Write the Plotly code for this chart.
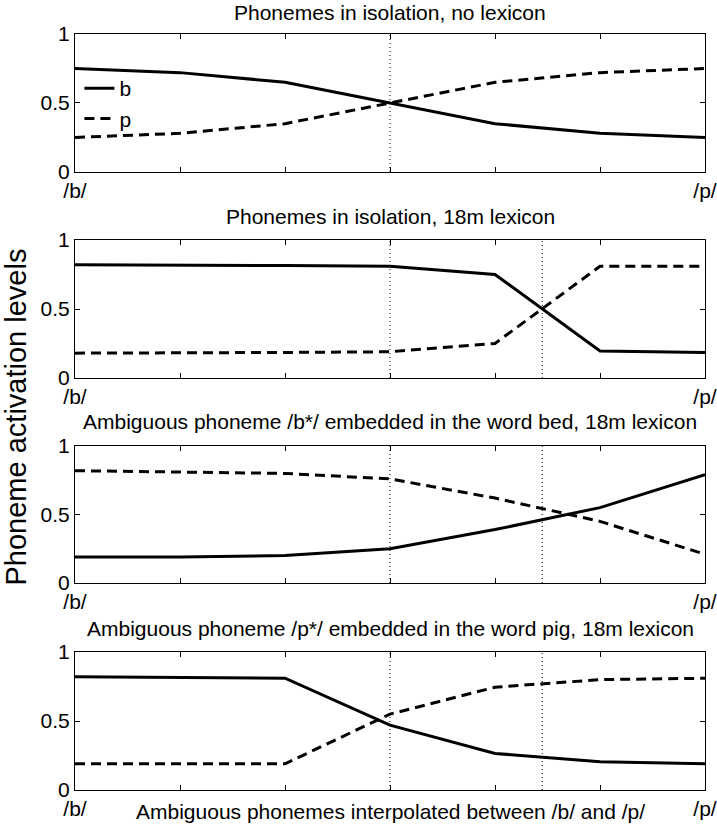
import plotly.graph_objects as go
from plotly.subplots import make_subplots

# continuum steps between /b/ and /p/
steps = [0, 1, 2, 3, 4, 5, 6]
tick_text = ["/b/", "", "", "", "", "", "/p/"]

titles = [
    "Phonemes in isolation, no lexicon",
    "Phonemes in isolation, 18m lexicon",
    "Ambiguous phoneme /b*/ embedded in the word bed, 18m lexicon",
    "Ambiguous phoneme /p*/ embedded in the word pig, 18m lexicon",
]

b_iso_none = [0.75, 0.72, 0.65, 0.50, 0.35, 0.28, 0.25]
p_iso_none = [0.25, 0.28, 0.35, 0.50, 0.65, 0.72, 0.75]

b_iso_18m = [0.82, 0.82, 0.815, 0.81, 0.75, 0.195, 0.185]
p_iso_18m = [0.18, 0.18, 0.185, 0.19, 0.25, 0.81, 0.81]

b_bed = [0.19, 0.19, 0.20, 0.25, 0.39, 0.55, 0.79]
p_bed = [0.82, 0.81, 0.80, 0.76, 0.62, 0.45, 0.21]

b_pig = [0.82, 0.815, 0.81, 0.47, 0.265, 0.205, 0.19]
p_pig = [0.19, 0.19, 0.19, 0.55, 0.745, 0.80, 0.81]

b_series = [b_iso_none, b_iso_18m, b_bed, b_pig]
p_series = [p_iso_none, p_iso_18m, p_bed, p_pig]

# category boundaries (dotted lines) per panel
boundaries = [[3], [3, 4.45], [3, 4.45], [3, 4.45]]

FONT = "Liberation Sans, Arial, sans-serif"

fig = make_subplots(rows=4, cols=1)

domains = [[0.8175, 1.0], [0.545, 0.7275], [0.2738, 0.455], [0.0, 0.1825]]
title_y = [1.028, 0.759, 0.487, 0.214]

for i in range(4):
    row = i + 1
    fig.add_trace(go.Scatter(
        x=steps, y=b_series[i], mode="lines", name="b",
        line=dict(color="black", width=3),
        showlegend=(i == 0),
    ), row=row, col=1)
    fig.add_trace(go.Scatter(
        x=steps, y=p_series[i], mode="lines", name="p",
        line=dict(color="black", width=3, dash="10px,6px"),
        showlegend=(i == 0),
    ), row=row, col=1)
    xref = "x" if row == 1 else f"x{row}"
    yref = "y domain" if row == 1 else f"y{row} domain"
    for bx in boundaries[i]:
        fig.add_shape(type="line", x0=bx, x1=bx, y0=0, y1=1,
                      xref=xref, yref=yref,
                      line=dict(color="black", width=1, dash="1px,3px"))
    fig.add_annotation(text=titles[i], x=0.5, y=title_y[i], xref="paper", yref="paper",
                       showarrow=False, yanchor="middle", font=dict(size=21))

    fig.update_yaxes(domain=domains[i], row=row, col=1)

fig.update_xaxes(
    range=[0, 6], tickvals=steps, ticktext=tick_text,
    ticks="inside", ticklen=5, tickcolor="black",
    showline=True, linecolor="black", linewidth=1, mirror="ticks",
    showgrid=False, zeroline=False, automargin=False,
)
fig.update_yaxes(
    range=[0, 1], tickvals=[0, 0.5, 1], ticktext=["0", "0.5", "1"],
    ticks="inside", ticklen=5, tickcolor="black",
    showline=True, linecolor="black", linewidth=1, mirror="ticks",
    showgrid=False, zeroline=False, automargin=False,
)

fig.add_annotation(text="Ambiguous phonemes interpolated between /b/ and /p/",
                   x=0.5, y=-0.029, xref="paper", yref="paper",
                   showarrow=False, yanchor="middle", font=dict(size=21))
fig.add_annotation(text="Phoneme activation levels", textangle=-90,
                   x=-0.0937, y=0.494, xref="paper", yref="paper",
                   showarrow=False, xanchor="center", yanchor="middle", font=dict(size=29))

fig.update_layout(
    width=717, height=827,
    margin=dict(l=75, r=12, t=34, b=37),
    paper_bgcolor="white", plot_bgcolor="white",
    font=dict(family=FONT, size=21, color="black"),
    legend=dict(x=0.007, y=0.955, xanchor="left", yanchor="top",
                bgcolor="rgba(0,0,0,0)", font=dict(size=21),
                tracegroupgap=0),
)

# drop the default 8px body margin so the figure fills the window
fig.write_html("out.html", config={"displayModeBar": False},
               post_script="document.body.style.margin = '0';")
